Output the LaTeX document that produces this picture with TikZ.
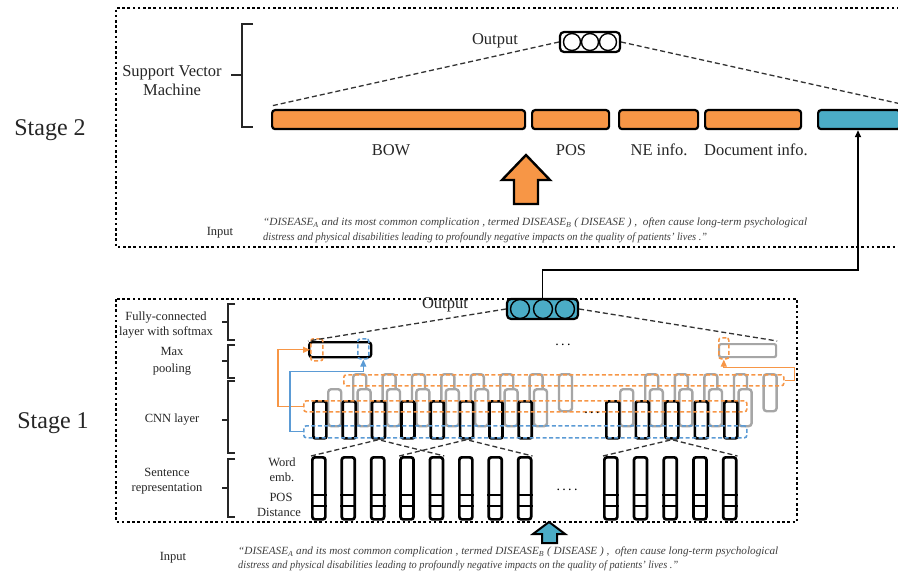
\documentclass[tikz,border=0pt]{standalone}
\usepackage{fontspec}
\setmainfont{Liberation Serif}
\usepackage{graphicx}
\usetikzlibrary{arrows.meta,calc}
\definecolor{orng}{HTML}{F79646}
\definecolor{tealc}{HTML}{4BACC6}
\definecolor{bluec}{HTML}{5B9BD5}
\definecolor{grayc}{HTML}{A6A6A6}
\definecolor{txtc}{HTML}{262626}
\definecolor{quotec}{HTML}{404040}
\newcommand{\qlineA}{``DISEASE\textsubscript{A} and its most common complication , termed DISEASE\textsubscript{B} ( DISEASE ) ,\ \ often cause long-term psychological}
\newcommand{\qlineB}{distress and physical disabilities leading to profoundly negative impacts on the quality of patients' lives .''}
\begin{document}
\begin{tikzpicture}[x=1pt,y=-1pt,
  frame/.style={line width=2.6pt, dash pattern=on 2.6pt off 2.6pt, black},
  bar/.style={draw=black, line width=2.2pt, rounded corners=3pt, minimum height=19pt, inner sep=0pt, anchor=north west},
  outbox/.style={draw=black, line width=2.2pt, rounded corners=4pt, inner sep=0pt},
  neuron/.style={circle, draw=black, line width=1.4pt, minimum size=17pt, inner sep=0pt},
  bigl/.style={font=\fontsize{24}{28}\selectfont, text=txtc},
  midl/.style={font=\fontsize{16.5}{19}\selectfont, text=txtc, align=center},
  smalll/.style={font=\fontsize{12.5}{15}\selectfont, text=txtc, align=center},
  quotel/.style={font=\fontsize{11}{12}\selectfont\itshape, text=quotec, anchor=west, inner sep=0pt},
  dline/.style={line width=1.3pt, dash pattern=on 5pt off 3pt, black!80},
  brk/.style={line width=1.5pt, black!85},
  sent/.style={draw=black, line width=2.7pt, rounded corners=2.5pt, minimum width=13pt, minimum height=62pt, inner sep=0pt, anchor=north west, fill=white},
  cnnb/.style={draw=black, line width=2.7pt, rounded corners=2pt, minimum width=13pt, minimum height=37pt, inner sep=0pt, anchor=north west, fill=white},
  cnng/.style={draw=grayc, line width=2.4pt, rounded corners=3pt, minimum width=13pt, minimum height=37pt, inner sep=0pt, anchor=north west, fill=white},
  dsh/.style={dash pattern=on 4pt off 2.5pt, line width=1.6pt, rounded corners=2.5pt, inner sep=0pt, anchor=north west},
  conn/.style={line width=1.3pt, -{Triangle[length=7pt,width=6pt]}}
]
\useasboundingbox (0,0) rectangle (898,578);
\fill[white] (0,0) rectangle (898,578);

% ---------- Stage 2 ----------
\draw[frame] (910,8) -- (116,8) -- (116,247) -- (910,247);
\node[bigl] (st2) at (50,130) {Stage 2};

\node[midl] (svm) at (172,81) {Support Vector\\Machine};
\draw[brk] (253,24) -- (242,24) -- (242,127) -- (253,127);
\draw[brk] (231,75) -- (242,75);

\node[bar, fill=orng, minimum width=253pt] (bow) at (271,109) {};
\node[bar, fill=orng, minimum width=77pt] (pos) at (531,109) {};
\node[bar, fill=orng, minimum width=79pt] (ne) at (618,109) {};
\node[bar, fill=orng, minimum width=96pt] (doc) at (704,109) {};
\node[bar, fill=tealc, minimum width=82pt] (svmin) at (817,109) {};

\node[midl] (bowl) at (391,150) {BOW};
\node[midl] (posl) at (571,150) {POS};
\node[midl] (nel) at (659,150) {NE info.};
\node[midl] (docl) at (756,150) {Document info.};

\node[outbox, fill=white, minimum width=60pt, minimum height=20pt] (out2) at (590,42) {};
\node[neuron] (o2a) at (572,42) {};
\node[neuron] (o2b) at (590,42) {};
\node[neuron] (o2c) at (608,42) {};
\node[midl] (out2l) at (495,41) {Output};
\draw[dline] (out2.west) -- ([yshift=3pt]bow.north west);
\draw[dline] (out2.east) -- ([yshift=5pt]svmin.north east);

\draw[line width=2.4pt, fill=orng] (526,155) -- (550,180) -- (538,180) -- (538,204) -- (514,204) -- (514,180) -- (502,180) -- cycle;

\node[smalll] (in2) at (220,233) {Input};
\node[quotel] (q2a) at (263,223) {\resizebox{544pt}{\height}{\qlineA}};
\node[quotel] (q2b) at (263,238) {\resizebox{444pt}{\height}{\qlineB}};

% ---------- Stage 1 ----------
\draw[frame] (116,299) rectangle (797,522);
\node[bigl] (st1) at (53,423) {Stage 1};

\node[smalll] (fcl) at (166,325) {Fully-connected\\layer with softmax};
\node[smalll, font=\fontsize{12.5}{17}\selectfont] (mpl) at (172,361) {Max\\pooling};
\node[smalll] (cnnl) at (172,420) {CNN layer};
\node[smalll] (senl) at (167,481) {Sentence\\representation};
\foreach \a/\b/\m in {304/340/322, 345/378/361, 381/453/420, 459/517/488}{
  \draw[brk] (235,\a) -- (228,\a) -- (228,\b) -- (235,\b);
  \draw[brk] (222,\m) -- (228,\m);
}
\node[smalll] (wel) at (282,470) {Word\\emb.};
\node[smalll] (posl1) at (281,497) {POS};
\node[smalll] (disl) at (279,512) {Distance};

% sentence representation
\foreach \i in {1,...,8}{
  \node[sent] (s\i) at ({311+29.4*(\i-1)},456) {};
  \draw[line width=2.4pt] ([yshift=15pt]s\i.south west) -- ([yshift=15pt]s\i.south east);
  \draw[line width=2.4pt] ([yshift=26pt]s\i.south west) -- ([yshift=26pt]s\i.south east);
}
\foreach \i in {1,...,5}{
  \node[sent] (r\i) at ({603+29.7*(\i-1)},456) {};
  \draw[line width=2.4pt] ([yshift=15pt]r\i.south west) -- ([yshift=15pt]r\i.south east);
  \draw[line width=2.4pt] ([yshift=26pt]r\i.south west) -- ([yshift=26pt]r\i.south east);
}
\node[font=\fontsize{14}{14}\selectfont] (dots3) at (567,490) {.\,.\,.\,.};

% CNN layers
\foreach \i in {1,...,8}{ \node[cnng] (g\i) at ({352+29.4*(\i-1)},373) {}; }
\foreach \i in {1,...,5}{ \node[cnng] (gr\i) at ({644+29.6*(\i-1)},373) {}; }
\node[dsh, draw=orng, minimum width=440pt, minimum height=11pt] (l3o) at (343,374) {};
\foreach \i in {1,...,8}{ \node[cnng] (h\i) at ({327+29.4*(\i-1)},388) {}; }
\foreach \i in {1,...,5}{ \node[cnng] (hr\i) at ({619+29.6*(\i-1)},388) {}; }
\foreach \i in {1,...,8}{ \node[cnnb] (c\i) at ({312+29.35*(\i-1)},400) {}; }
\foreach \i in {1,...,5}{ \node[cnnb] (cr\i) at ({605+29.5*(\i-1)},400) {}; }
\node[dsh, draw=orng, minimum width=443pt, minimum height=11pt] (l1o) at (303,400) {};
\node[dsh, draw=bluec, minimum width=443pt, minimum height=12pt] (l1b) at (303,425) {};
\node[font=\fontsize{14}{14}\selectfont] (dots2) at (592,413) {.\,.\,.};

% sentence -> CNN dashed
\draw[dline] (s1.north west) -- (c3.south) -- (s5.north east);
\draw[dline] (s4.north west) -- (c6.south) -- (s8.north east);
\draw[dline] (r1.north west) -- (cr3.south) -- (r5.north east);

% max pooling
\node[draw=black, line width=2.4pt, rounded corners=3pt, minimum width=62pt, minimum height=15pt, inner sep=0pt, anchor=north west, fill=white] (mp1) at (308,341) {};
\node[dsh, draw=orng, minimum width=12pt, minimum height=22pt] (mpo) at (310,338) {};
\node[dsh, draw=bluec, minimum width=11pt, minimum height=20pt] (mpb) at (357,338) {};
\node[draw=grayc, line width=2.2pt, rounded corners=2pt, minimum width=57pt, minimum height=13pt, inner sep=0pt, anchor=north west, fill=white] (mp2) at (718,343) {};
\node[dsh, draw=orng, minimum width=10pt, minimum height=21pt] (mpro) at (718,337) {};
\node[font=\fontsize{14}{14}\selectfont] (dots1) at (563,345) {.\,.\,.};

\draw[conn, draw=orng, line width=1.2pt] (l1o.west) -- ++(-25,0) |- (mpo.west);
\draw[conn, draw=bluec, line width=1.2pt] (l1b.west) -- ++(-13,0) |- ([yshift=-12pt]mpb.south) -- (mpb.south);
\draw[conn, draw=orng, line width=1.2pt] (l3o.east) -- ++(10,0) |- ([yshift=-8pt]mpro.south) -- (mpro.south);

% output stage 1
\node[outbox, fill=tealc, minimum width=71pt, minimum height=20pt] (out1) at (542.5,309) {};
\node[neuron, fill=tealc, minimum size=19pt] (o1a) at (520,309) {};
\node[neuron, fill=tealc, minimum size=19pt] (o1b) at (543,309) {};
\node[neuron, fill=tealc, minimum size=19pt] (o1c) at (565,309) {};
\node[midl] (out1l) at (445,305) {Output};
\draw[dline] (out1.west) -- (mp1.north west);
\draw[dline] (out1.east) -- ([yshift=2pt]mp2.north east);

% connector stage 1 -> stage 2
\coordinate (turn) at (858,270);
\draw[conn, line width=1.6pt] (out1.north) |- (turn) -- (turn |- svmin.south);

% input arrow stage 1
\draw[line width=2pt, fill=tealc] (549,522) -- (565,534) -- (557,534) -- (557,543) -- (542,543) -- (542,534) -- (533,534) -- cycle;
\node[smalll] (in1) at (173,558) {Input};
\node[quotel] (q1a) at (238,552) {\resizebox{540pt}{\height}{\qlineA}};
\node[quotel] (q1b) at (238,566) {\resizebox{440pt}{\height}{\qlineB}};
\end{tikzpicture}
\end{document}
